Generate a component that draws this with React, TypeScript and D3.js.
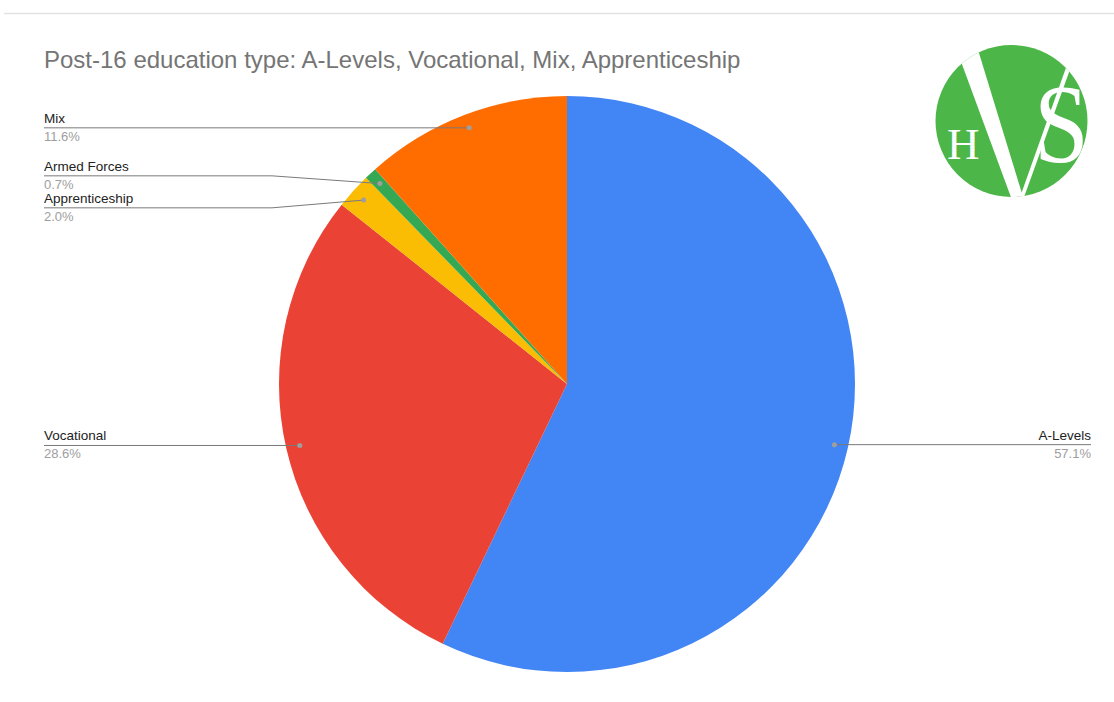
import React from "react";
import * as d3 from "d3";

const categories = ["A-Levels", "Vocational", "Apprenticeship", "Armed Forces", "Mix"];
const values = [57.1, 28.6, 2.0, 0.7, 11.6];
const colors = ["#4285F4", "#EA4335", "#FBBC04", "#34A853", "#FF6D01"];
const title = "Post-16 education type: A-Levels, Vocational, Mix, Apprenticeship";

const W = 1114;
const H = 702;
const cx = 567;
const cy = 384;
const R = 288;

export default function App() {
  const pie = d3.pie<number>().value((d) => d).sort(null);
  const arcs = pie(values);
  const arcGen = d3.arc<d3.PieArcDatum<number>>().innerRadius(0).outerRadius(R);
  const dotR = R * 0.952;

  type Lab = { i: number; dx: number; dy: number; ly: number; left: boolean };
  const labs: Lab[] = arcs.map((a, i) => {
    const m = (a.startAngle + a.endAngle) / 2;
    const dx = cx + dotR * Math.sin(m);
    const dy = cy - dotR * Math.cos(m);
    return { i, dx, dy, ly: dy, left: Math.sin(m) < 0 };
  });

  const gap = 32;
  [true, false].forEach((side) => {
    const group = labs.filter((l) => l.left === side).sort((a, b) => a.dy - b.dy);
    for (let iter = 0; iter < 50; iter++) {
      for (let k = 0; k < group.length - 1; k++) {
        const a = group[k];
        const b = group[k + 1];
        const d = b.ly - a.ly;
        if (d < gap) {
          const s = (gap - d) / 2;
          a.ly -= s;
          b.ly += s;
        }
      }
    }
  });

  const lineColor = "#7a7a7a";
  const leftX = 44;
  const rightX = 1091;
  const elbowL = cx - R - 7;
  const elbowR = cx + R + 7;

  return (
    <svg
      width={W}
      height={H}
      style={{ position: "absolute", left: 0, top: 0, display: "block", background: "#fff" }}
      fontFamily="'Liberation Sans', Arial, sans-serif"
    >
      <line x1={4} x2={W} y1={13.5} y2={13.5} stroke="#e3e3e3" strokeWidth={1.5} />
      <text x={44} y={68} fontSize={24} fill="#757575">
        {title}
      </text>

      <g transform={`translate(${cx},${cy})`}>
        {arcs.map((a, i) => (
          <path key={i} d={arcGen(a) || ""} fill={colors[i]} />
        ))}
      </g>

      {labs.map((l) => {
        const pct = values[l.i].toFixed(1) + "%";
        const pts =
          Math.abs(l.ly - l.dy) < 0.5
            ? `${l.left ? leftX : rightX},${l.ly} ${l.dx},${l.dy}`
            : `${l.left ? leftX : rightX},${l.ly} ${l.left ? elbowL : elbowR},${l.ly} ${l.dx},${l.dy}`;
        return (
          <g key={l.i}>
            <polyline points={pts} fill="none" stroke={lineColor} strokeWidth={1} />
            <circle cx={l.dx} cy={l.dy} r={2.5} fill="#9e9e9e" />
            <text
              x={l.left ? leftX : rightX}
              y={l.ly - 5}
              fontSize={13.5}
              fill="#222"
              textAnchor={l.left ? "start" : "end"}
            >
              {categories[l.i]}
            </text>
            <text
              x={l.left ? leftX : rightX}
              y={l.ly + 13}
              fontSize={13}
              fill="#9e9e9e"
              textAnchor={l.left ? "start" : "end"}
            >
              {pct}
            </text>
          </g>
        );
      })}

      {/* logo */}
      <g>
        <defs>
          <clipPath id="logoClip">
            <circle cx={1011.5} cy={121} r={76} />
          </clipPath>
        </defs>
        <circle cx={1011.5} cy={121} r={76} fill="#4CB648" />
        <g clipPath="url(#logoClip)">
          <polygon points="956,48 975,40 1024,200 1012,200" fill="#fff" />
          <polygon points="1068,62 1072,64 1023,200 1019,200" fill="#fff" />
        </g>
        <text x={947} y={159} fontSize={45} fill="#fff" fontFamily="'Liberation Serif', 'Times New Roman', serif">
          H
        </text>
        <text
          x={0}
          y={0}
          fontSize={112}
          fill="#fff"
          fontFamily="'Liberation Serif', 'Times New Roman', serif"
          transform="translate(1034,162) scale(0.88,1)"
        >
          S
        </text>
      </g>
    </svg>
  );
}
